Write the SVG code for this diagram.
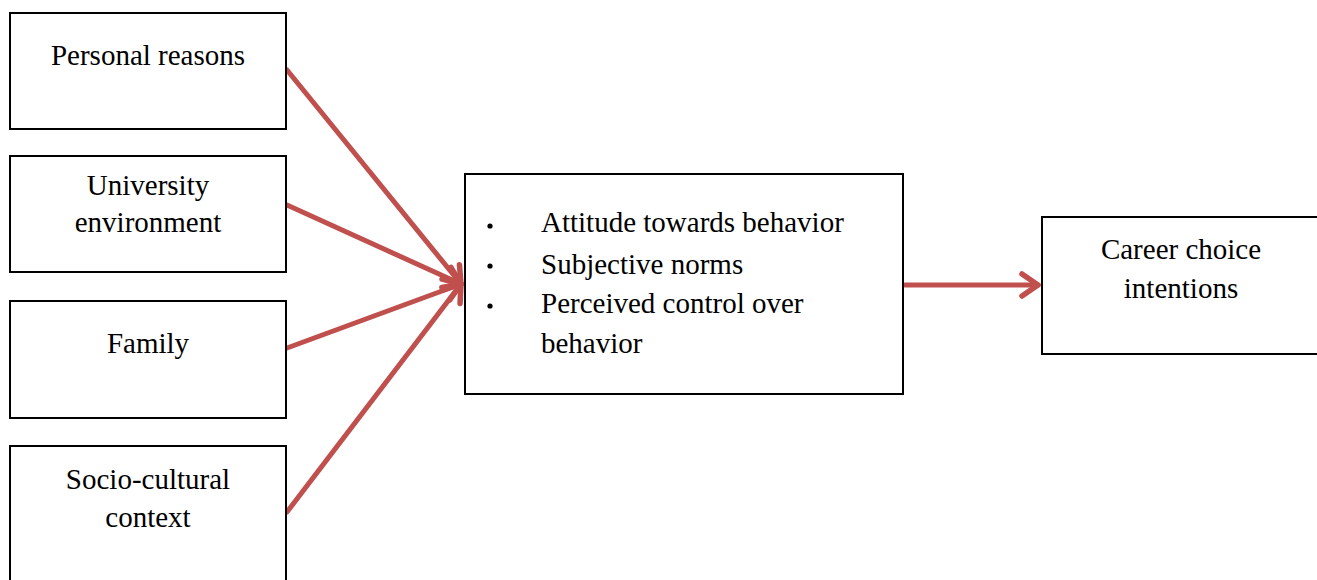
<svg xmlns="http://www.w3.org/2000/svg" width="1317" height="580" viewBox="0 0 1317 580">
<style>
.box{fill:#fff;stroke:#000;stroke-width:2}
.t{font-family:"Liberation Serif","Times New Roman",serif;font-size:29px;fill:#000}
.c{text-anchor:middle}
.conn{stroke:#C0504D;stroke-width:5;fill:none;stroke-linecap:round}
</style>
<defs>
<marker id="ah" markerUnits="userSpaceOnUse" markerWidth="30" markerHeight="30" viewBox="-20 -15 30 30" refX="0" refY="0" orient="auto">
<path d="M-16,-11 L0,0 L-16,11" fill="none" stroke="#C0504D" stroke-width="5.5" stroke-linecap="round" stroke-linejoin="round"/>
</marker>
</defs>
<rect width="1317" height="580" fill="#fff"/>
<g id="connectors">
<line class="conn" x1="287" y1="70" x2="461" y2="284" marker-end="url(#ah)"/>
<line class="conn" x1="287" y1="205" x2="461" y2="284" marker-end="url(#ah)"/>
<line class="conn" x1="287" y1="348" x2="461" y2="284" marker-end="url(#ah)"/>
<line class="conn" x1="287" y1="512" x2="461" y2="284" marker-end="url(#ah)"/>
<line class="conn" x1="905" y1="285" x2="1038" y2="285" marker-end="url(#ah)"/>
</g>
<g id="personal">
<rect class="box" x="10" y="13" width="276" height="116"/>
<text class="t c" x="148" y="65">Personal reasons</text>
</g>
<g id="university">
<rect class="box" x="10" y="156" width="276" height="116"/>
<text class="t c" x="148" y="195">University</text>
<text class="t c" x="148" y="232">environment</text>
</g>
<g id="family">
<rect class="box" x="10" y="301" width="276" height="117"/>
<text class="t c" x="148" y="353">Family</text>
</g>
<g id="sociocultural">
<rect class="box" x="10" y="446" width="276" height="140"/>
<text class="t c" x="148" y="489">Socio-cultural</text>
<text class="t c" x="148" y="527">context</text>
</g>
<g id="tpb">
<rect class="box" x="465" y="174" width="438" height="220"/>
<circle cx="490" cy="226" r="2.6" fill="#000"/>
<circle cx="490" cy="266" r="2.6" fill="#000"/>
<circle cx="490" cy="306" r="2.6" fill="#000"/>
<text class="t" x="541" y="232">Attitude towards behavior</text>
<text class="t" x="541" y="274">Subjective norms</text>
<text class="t" x="541" y="313">Perceived control over</text>
<text class="t" x="541" y="353">behavior</text>
</g>
<g id="career">
<rect class="box" x="1042" y="217" width="285" height="137"/>
<text class="t c" x="1181" y="259">Career choice</text>
<text class="t c" x="1181" y="298">intentions</text>
</g>
</svg>
